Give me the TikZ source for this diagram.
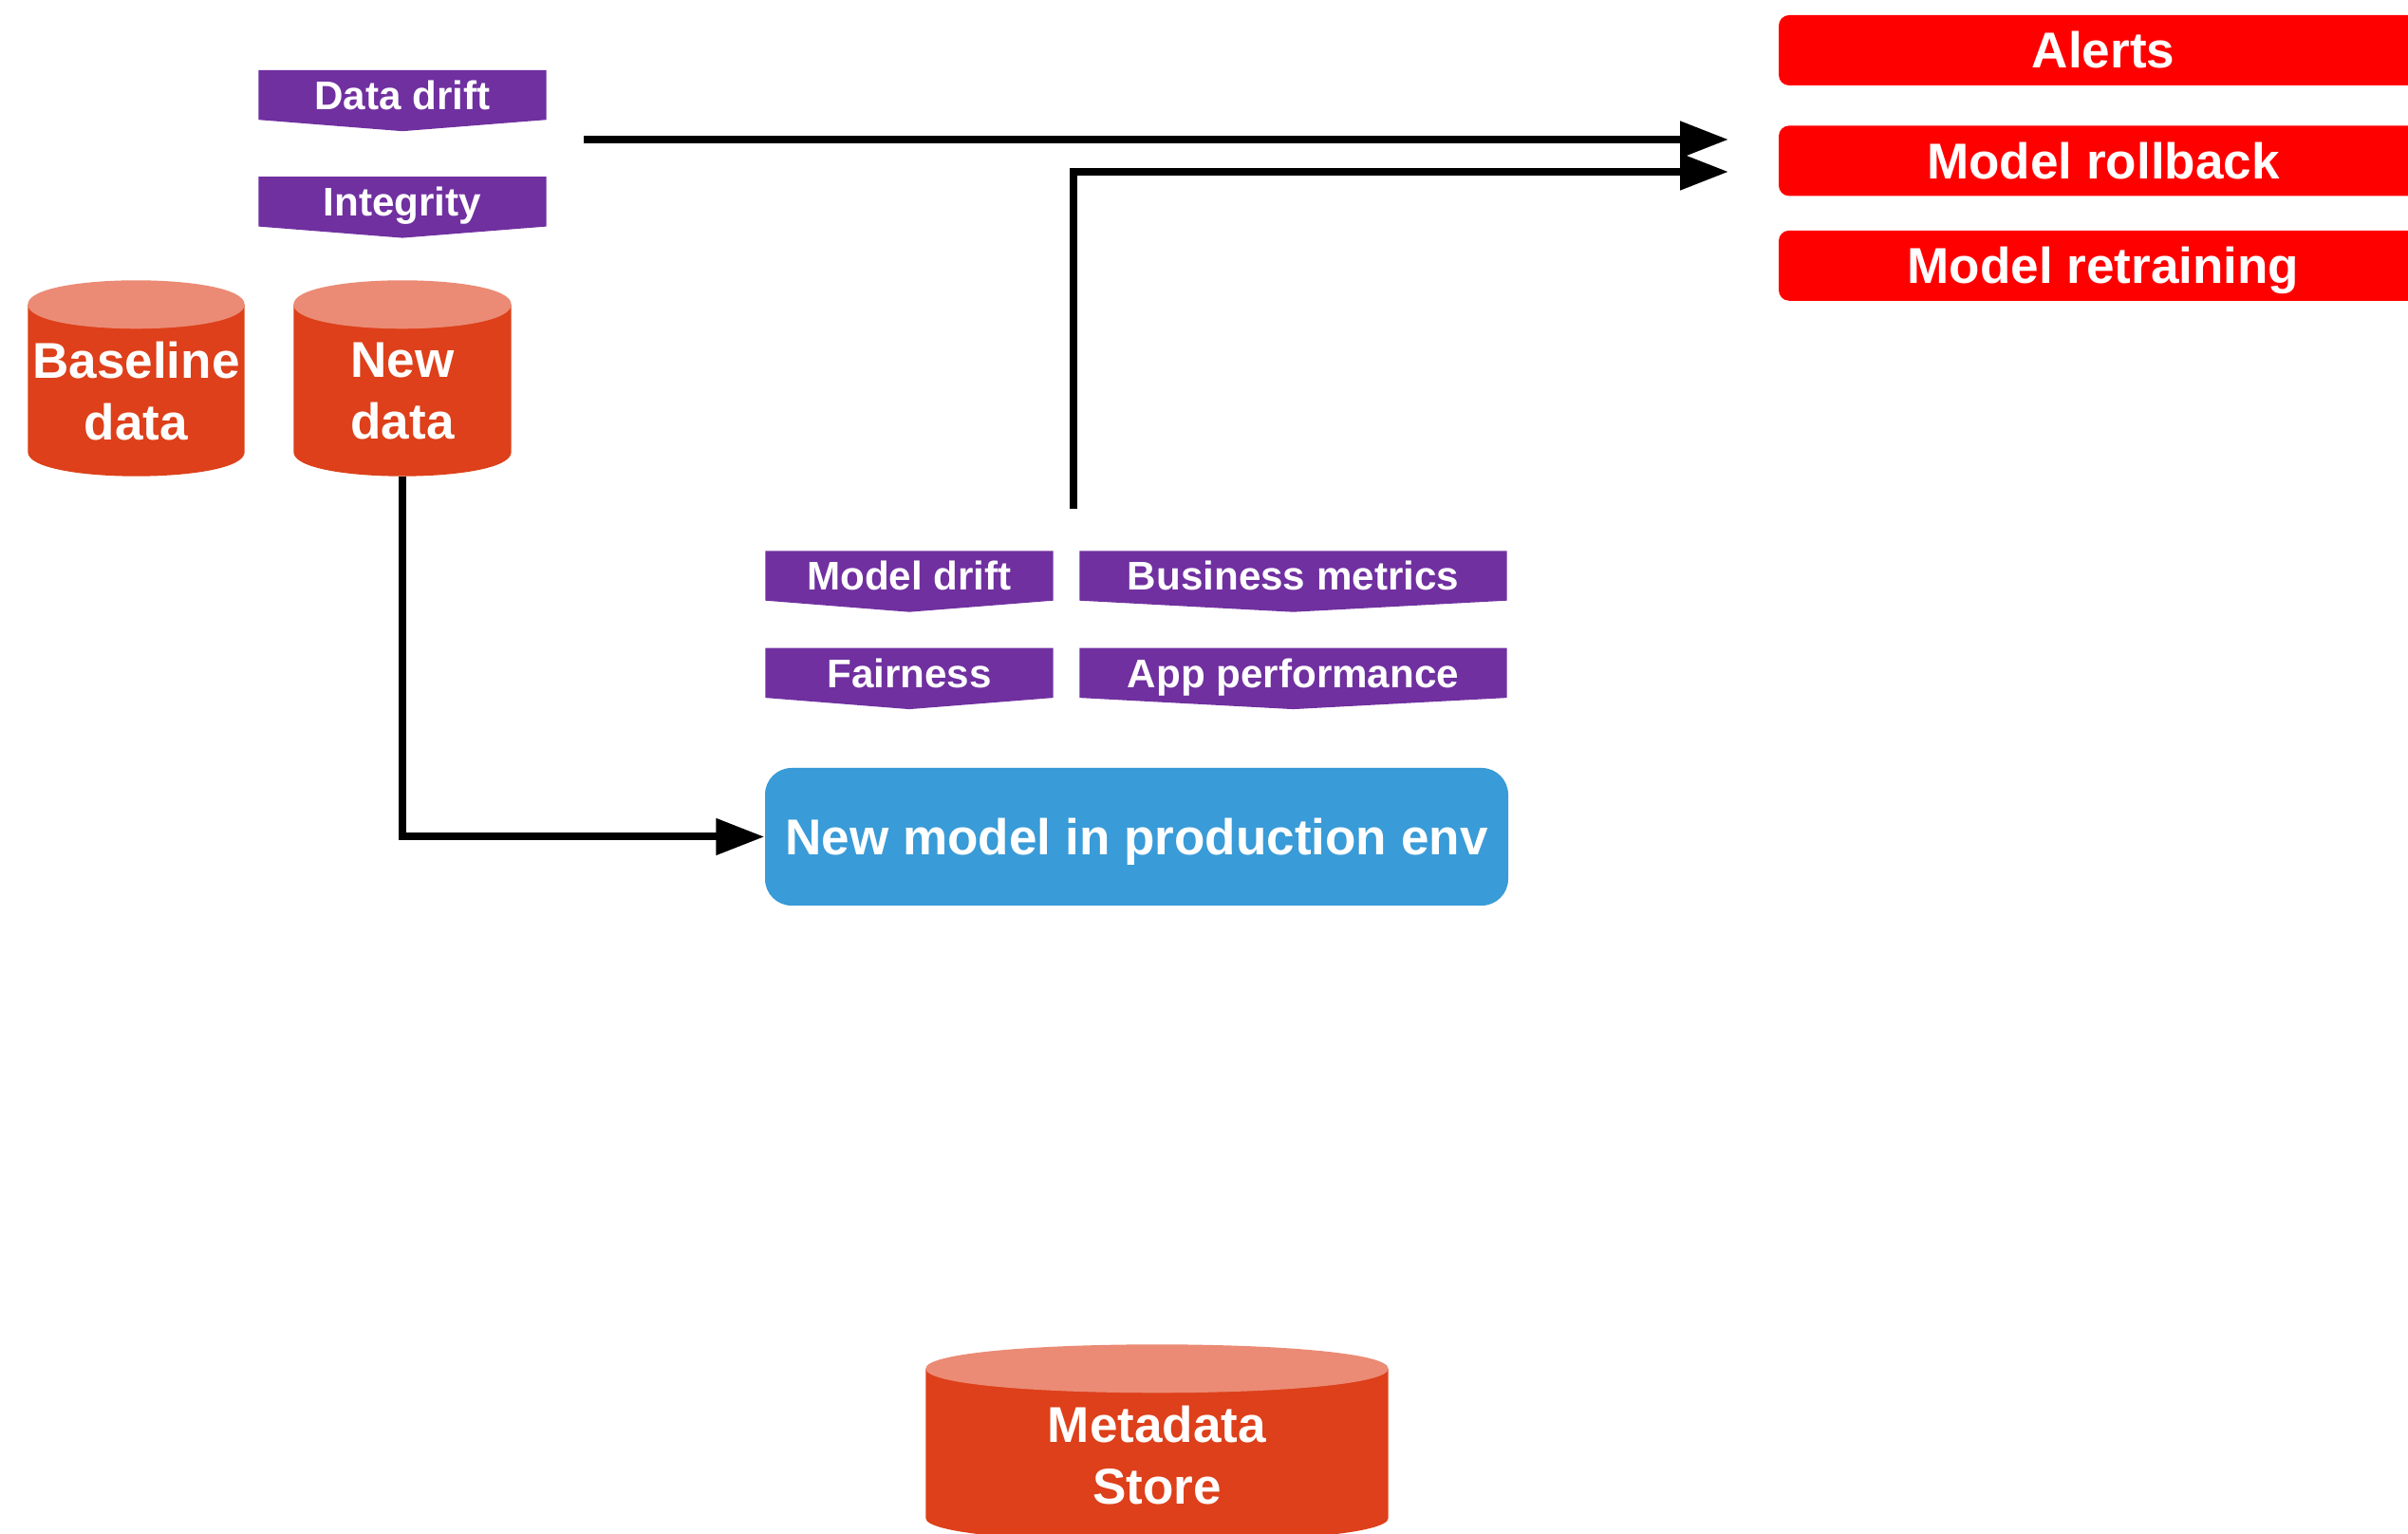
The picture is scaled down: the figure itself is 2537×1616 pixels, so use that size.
\documentclass[tikz,border=0pt]{standalone}
\usepackage{fontspec}
\setmainfont{Liberation Sans}
\usepackage{tikz}
\usetikzlibrary{arrows.meta, backgrounds, calc, positioning}

\definecolor{tagpurple}{RGB}{112,48,160}
\definecolor{dbbody}{RGB}{221,64,26}
\definecolor{dbtop}{RGB}{235,139,117}
\definecolor{actionred}{RGB}{255,0,0}
\definecolor{prodblue}{RGB}{57,155,215}

\tikzset{
  bigfont/.style={font=\fontsize{15.1pt}{18.4pt}\selectfont\bfseries},
  tagbox/.style={text=white, inner sep=0pt, minimum height=5.1mm,
    minimum width=30.2mm, text height=8.6pt, text depth=0pt,
    font=\fontsize{12pt}{14pt}\selectfont\bfseries},
  dbcyl/.style={rectangle, inner sep=0pt, minimum height=20.5mm},
  dbtext/.style={text=white, align=center, inner sep=0pt, bigfont},
  actionbox/.style={fill=actionred, rounded corners=1.1mm, text=white, inner sep=0pt,
    minimum width=68.4mm, minimum height=7.4mm, text height=10.8pt, text depth=0pt, bigfont},
  flowarrow/.style={line width=0.8mm, -{Triangle[length=5.1mm, width=3.7mm]}},
}

\begin{document}
\begin{tikzpicture}[x=0.1mm, y=-0.1mm]
    \path[use as bounding box, clip] (0,0) rectangle (2537,1616);

    \node[tagbox] (drift) at (424,100) {Data drift};
    \node[tagbox, below=6mm of drift] (integrity) {Integrity};

    \node[dbcyl, minimum width=22.7mm] (baseline) at (143.5,398.5) {};
    \node[dbcyl, minimum width=22.8mm] (newdata) at (424,398.5) {};
    \node[dbtext] (baselinetext) at ([yshift=-1.35mm]baseline.center) {Baseline\\data};
    \node[dbtext] (newdatatext) at ([yshift=-1.35mm]newdata.center) {New\\data};

    \node[tagbox] (mdrift) at (958,606.5) {Model drift};
    \node[tagbox, minimum width=44.9mm] (business) at (1362.5,606.5) {Business metrics};
    \node[tagbox, below=5mm of mdrift] (fairness) {Fairness};
    \node[tagbox, minimum width=44.9mm, below=5mm of business] (appperf) {App performance};

    \node[fill=prodblue, rounded corners=2.8mm, text=white, minimum width=78.3mm, minimum height=14.5mm,
      text height=10.8pt, text depth=0pt, bigfont] (prodmodel) at (1197.5,881.5) {New model in production env};

    \node[actionbox] (alerts) at (2216,53) {Alerts};
    \node[actionbox, below=4.1mm of alerts] (rollback) {Model rollback};
    \node[actionbox, below=3.5mm of rollback] (retrain) {Model retraining};

    \node[dbcyl, minimum width=48.6mm, minimum height=20.7mm] (metastore) at (1219,1520.5) {};
    \node[dbtext] (metastoretext) at ([yshift=-1.25mm]metastore.center) {Metadata\\Store};

    \begin{scope}[on background layer]
        \foreach \t in {drift,integrity,mdrift,business,fairness,appperf}
            \fill[tagpurple] (\t.north west) -- (\t.north east) -- (\t.south east)
                -- ([yshift=-1.2mm]\t.south) -- (\t.south west) -- cycle;

        \foreach \c in {baseline,newdata,metastore} {
            \fill[dbbody] ([yshift=-2.55mm]\c.north west) -- ([yshift=2.55mm]\c.south west)
                .. controls ([yshift=-0.85mm]\c.south west) and ([yshift=-0.85mm]\c.south east) .. ([yshift=2.55mm]\c.south east)
                -- ([yshift=-2.55mm]\c.north east) -- cycle;
            \fill[dbtop] ([yshift=-2.55mm]\c.north west)
                .. controls ([yshift=0.85mm]\c.north west) and ([yshift=0.85mm]\c.north east) .. ([yshift=-2.55mm]\c.north east)
                .. controls ([yshift=-5.95mm]\c.north east) and ([yshift=-5.95mm]\c.north west) .. cycle;
        }
    \end{scope}

    \coordinate (out1) at (615,147);
    \coordinate (out2) at (1131,536);
    \coordinate (in1) at (1821,147);
    \coordinate (in2) at (1821,181);

    \draw[flowarrow] (out1) -- (in1);
    \draw[flowarrow] (out2) |- (in2);
    \draw[flowarrow] (newdata.south) |- (prodmodel.west);
\end{tikzpicture}
\end{document}
